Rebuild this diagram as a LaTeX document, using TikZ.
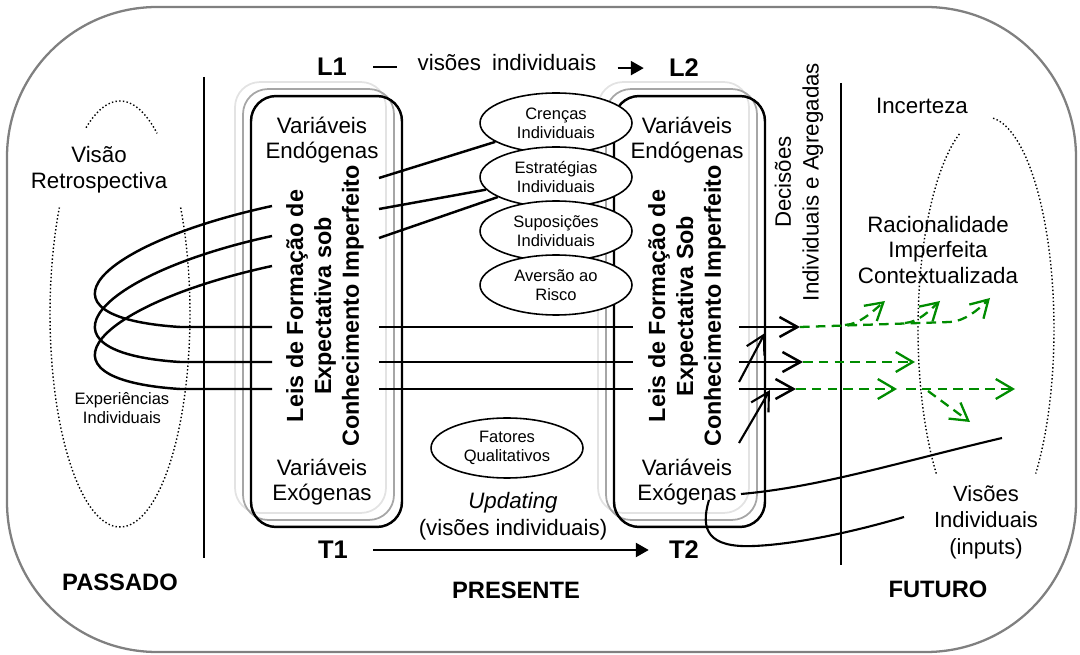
\documentclass[tikz,border=0pt]{standalone}
\usepackage{fontspec}
\setmainfont{Liberation Sans}
\usepackage{tikz}
\usetikzlibrary{arrows.meta}
\usetikzlibrary{positioning}
\usetikzlibrary{shapes.geometric}
\usetikzlibrary{calc}
\definecolor{cinza_m}{RGB}{128,128,128}
\definecolor{verde_s}{RGB}{0,140,0}
\tikzset{
  txt/.style = {align=center, inner sep=0pt,
    font=\fontsize{12.7}{14.6}\selectfont},
  txt_p/.style = {txt, font=\fontsize{9.4}{11}\selectfont},% texto pequeno
  txt_b/.style = {txt, font=\fontsize{13.5}{16}\selectfont\bfseries},% passado, presente, futuro
  txt_t/.style = {txt, font=\fontsize{14.5}{16}\selectfont\bfseries},% L1, L2, T1, T2
  txt_v/.style = {txt, rotate=90, font=\fontsize{13.3}{15.9}\selectfont\bfseries},% leis, vertical
  caixa_n/.style = {rectangle, rounded corners=0.5cm, draw=black, line width=1.4pt,
    minimum width=3.02cm, minimum height=8.62cm},% caixa principal
  caixa_s/.style = {caixa_n, draw=gray!70, line width=1pt},% sombra
  caixa_c/.style = {caixa_n, draw=gray!22, line width=1pt},% sombra clara
  elipse/.style = {ellipse, draw=black, fill=white, line width=0.9pt, txt_p,
    minimum width=3.04cm, minimum height=1.2cm},
  linha/.style = {draw=black, line width=1.4pt},
  ponto/.style = {draw=black, line width=0.8pt, dash pattern=on 0.8pt off 1.3pt},
  seta_v/.style = {draw=verde_s, line width=1.3pt, dash pattern=on 5.5pt off 3.5pt,
    -{Straight Barb[length=3.4mm, width=4mm]}}
}

\begin{document}
\begin{tikzpicture}[x=0.02cm, y=-0.02cm, >={Straight Barb[length=3.6mm, width=4mm]}]
\useasboundingbox (0,0) rectangle (1080,655);
\draw[cinza_m, line width=1.3pt, rounded corners=3cm] (7,7) rectangle (1076,652);

% separadores
\coordinate (sep1a) at (204,77);
\coordinate (sep1b) at (204,558);
\coordinate (sep2a) at (841,83);
\coordinate (sep2b) at (841,565);
\draw[line width=1.1pt] (sep1a) -- (sep1b);
\draw[line width=1.1pt] (sep2a) -- (sep2b);

% elipses pontilhadas
\draw[ponto] plot[domain=-119:-58, samples=40] ({120+70*cos(\x)}, {314+213*sin(\x)});
\draw[ponto] plot[domain=-30:210, samples=100] ({120+70*cos(\x)}, {314+213*sin(\x)});
\draw[ponto] plot[domain=137:247, samples=60] ({986+68*cos(\x)}, {329+212*sin(\x)});
\draw[ponto] plot[domain=-84:43, samples=60] ({986+68*cos(\x)}, {329+212*sin(\x)});

% caixas
\node[caixa_c] (sombraA2) at (310.5,297.5) {};
\node[caixa_s] (sombraA1) at (318.5,304.5) {};
\node[caixa_n] (caixaA) at (326.5,311.5) {};
\node[caixa_c] (sombraB2) at (673.5,297.5) {};
\node[caixa_s] (sombraB1) at (681.5,304.5) {};
\node[caixa_n] (caixaB) at (689.5,311.5) {};

\node[txt] (endoA) at (322,140) {Variáveis\\Endógenas};
\node[txt] (exoA) at (322,482) {Variáveis\\Exógenas};
\node[txt_v] (leisA) at (325,306) {Leis de Formação de\\Expectativa sob\\Conhecimento Imperfeito};
\node[txt] (endoB) at (687,140) {Variáveis\\Endógenas};
\node[txt] (exoB) at (687,482) {Variáveis\\Exógenas};
\node[txt_v] (leisB) at (687,306) {Leis de Formação de\\Expectativa Sob\\Conhecimento Imperfeito};

% elipses
\node[elipse] (crencas) at (556,123) {Crenças\\Individuais};
\node[elipse] (estrat) at (556,177) {Estratégias\\Individuais};
\node[elipse] (suposi) at (556,231) {Suposições\\Individuais};
\node[elipse] (aversao) at (556,285) {Aversão ao\\Risco};
\node[elipse] (fatores) at (507,448) {Fatores\\Qualitativos};

\coordinate (liga1) at (379,178);
\coordinate (liga2) at (379,209);
\coordinate (liga3) at (379,238);
\draw[linha] (liga1) -- (crencas);
\draw[linha] (liga2) -- (estrat);
\draw[linha] (liga3) -- (estrat);

% linhas L e T
\node[txt_t, anchor=base] (l1) at (332,76) {L1};
\node[txt, anchor=base] (visoes_l) at (507,71) {visões\hspace{0.5em}individuais};
\node[txt_t, anchor=base] (l2) at (684,77) {L2};
\draw[line width=1.3pt, shorten <=0.52cm, shorten >=0.4cm] (l1.east) -- (l1.east -| visoes_l.west);
\draw[line width=1.3pt, -{Triangle[length=2.6mm, width=2.8mm]}, shorten <=0.42cm, shorten >=0.5cm]
  (l2.west -| visoes_l.east) -- (l2.west);
\node[txt_t] (t1) at (333,550) {T1};
\node[txt_t] (t2) at (684,550) {T2};
\draw[linha, -{Triangle[length=2.6mm, width=2.8mm]}, shorten <=0.5cm, shorten >=0.4cm] (t1) -- (t2);
\node[txt, font=\fontsize{12.7}{14.6}\selectfont\itshape] (updating) at (513,503) {Updating};
\node[txt] (visoes_t) at (513,530) {(visões individuais)};

% textos soltos
\node[txt] (visao) at (99,170) {Visão\\Retrospectiva};
\node[txt_p] (exper) at (122,408) {Experiências\\Individuais};
\node[txt] (incerteza) at (922,106) {Incerteza};
\node[txt, rotate=90, font=\fontsize{12.7}{15.9}\selectfont] (decisoes) at (799,182) {Decisões\\Individuais e Agregadas};
\node[txt, font=\fontsize{12.7}{14.7}\selectfont] (racional) at (938,250) {Racionalidade\\Imperfeita\\Contextualizada};
\node[txt, font=\fontsize{12.5}{15}\selectfont] (inputs) at (986,522) {Visões\\Individuais\\(inputs)};
\node[txt_b] (passado) at (120,582) {PASSADO};
\node[txt_b] (presente) at (516,590) {PRESENTE};
\node[txt_b] (futuro) at (938,589) {FUTURO};

% voltas e linhas horizontais
\foreach \i/\ys/\ye/\xp in {1/206/327/800, 2/236/362/803, 3/266/389/796}{
  \coordinate (ini\i) at (272,\ys);
  \coordinate (volta\i) at (180,\ye);
  \coordinate (fimA\i) at (272,\ye);
  \coordinate (saiA\i) at (379,\ye);
  \coordinate (chB\i) at (633,\ye);
  \coordinate (saiB\i) at (739,\ye);
  \coordinate (ponta\i) at (\xp,\ye);
  \draw[linha] (ini\i) .. controls +(-175,38) and +(-155,-10) .. (volta\i) -- (fimA\i);
  \draw[linha] (saiA\i) -- (chB\i);
  \draw[linha, ->] (saiB\i) -- (ponta\i);
}

\coordinate (diag1a) at (739,382);
\coordinate (diag1b) at (765,333);
\coordinate (diag2a) at (739,443);
\coordinate (diag2b) at (770,390);
\draw[linha, line width=1.2pt, ->] (diag1a) -- (diag1b);
\draw[linha, line width=1.2pt, ->] (diag2a) -- (diag2b);

% exogenas para o futuro
\coordinate (exo_a) at (741,494);
\coordinate (exo_b) at (1002,438);
\coordinate (exo_c) at (709,500);
\coordinate (exo_d) at (754,546);
\coordinate (exo_e) at (904,517);
\draw[linha, line width=1.2pt] (exo_a) .. controls (820,487) and (900,462) .. (exo_b);
\draw[linha, line width=1.2pt] (exo_c) .. controls (700,530) and (708,548) .. (exo_d)
  .. controls (800,544) and (860,530) .. (exo_e);

% setas verdes
\coordinate (vr1) at (845,325);
\coordinate (vr2) at (905,323);
\coordinate (vb) at (950,322);
\coordinate (v1) at (885,301);
\coordinate (v2) at (940,301);
\coordinate (v3) at (990,298);
\coordinate (vm) at (915,362);
\coordinate (vi1) at (897,389);
\coordinate (vi2) at (906,389);
\coordinate (vi3) at (1015,389);
\coordinate (vd1) at (928,391);
\coordinate (vd2) at (970,422);
\draw[seta_v] (ponta1) -- (vb) .. controls (965,321) and (978,310) .. (v3);
\draw[seta_v] (vr1) .. controls (860,324) and (872,312) .. (v1);
\draw[seta_v] (vr2) .. controls (918,322) and (928,312) .. (v2);
\draw[seta_v] (ponta2) -- (vm);
\draw[seta_v] (ponta3) -- (vi1);
\draw[seta_v] (vi2) -- (vi3);
\draw[seta_v] (vd1) -- (vd2);
\end{tikzpicture}
\end{document}
